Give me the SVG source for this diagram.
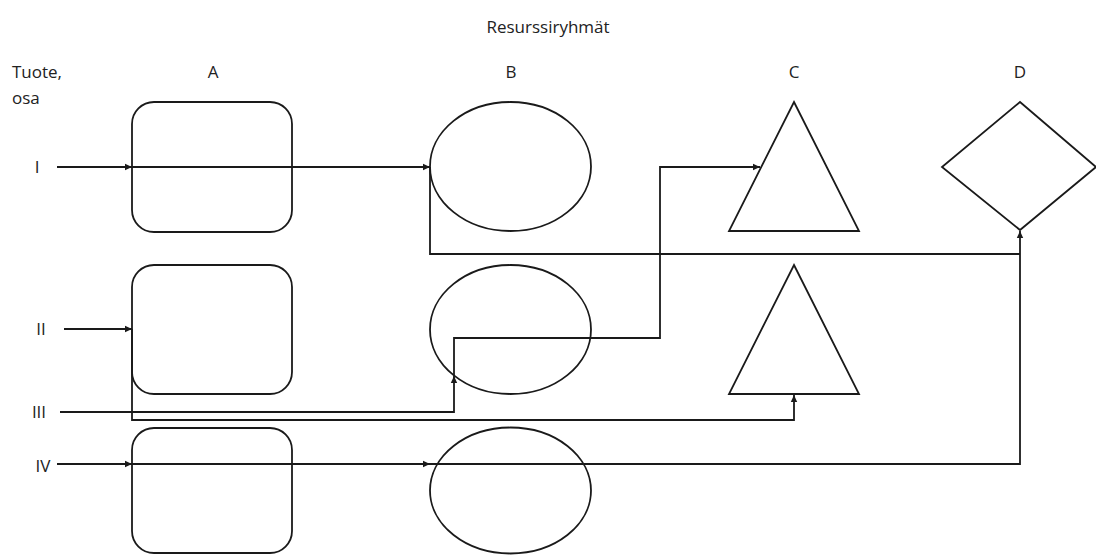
<svg xmlns="http://www.w3.org/2000/svg" width="1096" height="556" viewBox="0 0 1096 556">
<style>
.s{fill:none;stroke:#1a1a1a;stroke-width:1.8}
.c{fill:none;stroke:#1a1a1a;stroke-width:1.8}
.t{font-family:"Open Sans","Liberation Sans",sans-serif;font-size:17px;fill:#222}
</style>
<defs>
<marker id="ah" markerWidth="8" markerHeight="8" refX="7" refY="4" orient="auto" markerUnits="userSpaceOnUse">
<path d="M0,0.8 L7,4 L0,7.2 Z" fill="#1a1a1a"/>
</marker>
</defs>
<rect width="1096" height="556" fill="#fff"/>
<g id="labels">
<text class="t" x="548" y="33" text-anchor="middle">Resurssiryhmät</text>
<text class="t" x="12" y="78">Tuote,</text>
<text class="t" x="12" y="104">osa</text>
<text class="t" x="213" y="78" text-anchor="middle">A</text>
<text class="t" x="511" y="78" text-anchor="middle">B</text>
<text class="t" x="794" y="78" text-anchor="middle">C</text>
<text class="t" x="1020" y="78" text-anchor="middle">D</text>
<text class="t" x="37" y="173" text-anchor="middle">I</text>
<text class="t" x="41" y="335" text-anchor="middle">II</text>
<text class="t" x="39" y="418" text-anchor="middle">III</text>
<text class="t" x="43" y="472" text-anchor="middle">IV</text>
</g>
<g id="A1"><rect class="s" x="132" y="102" width="160" height="130" rx="22"/></g>
<g id="A2"><rect class="s" x="132" y="265" width="160" height="129" rx="22"/></g>
<g id="A3"><rect class="s" x="132" y="428" width="160" height="125" rx="22"/></g>
<g id="B1"><ellipse class="s" cx="510.5" cy="166.5" rx="80.5" ry="64.5"/></g>
<g id="B2"><ellipse class="s" cx="510.5" cy="329.5" rx="80.5" ry="64.5"/></g>
<g id="B3"><ellipse class="s" cx="510.5" cy="490.5" rx="80.5" ry="63"/></g>
<g id="C1"><polygon class="s" points="794,102 859,231 729,231"/></g>
<g id="C2"><polygon class="s" points="794,265 859,394 729,394"/></g>
<g id="D1"><polygon class="s" points="1020,102 1096,167 1020,230 942,167"/></g>
<g id="connectors">
<line class="c" x1="57" y1="167" x2="132" y2="167" marker-end="url(#ah)"/>
<line class="c" x1="132" y1="167" x2="430" y2="167" marker-end="url(#ah)"/>
<path class="c" d="M430,167 V254 H1020"/>
<line class="c" x1="64" y1="329" x2="132" y2="329" marker-end="url(#ah)"/>
<path class="c" d="M132,329 V420 H794 V395" marker-end="url(#ah)"/>
<path class="c" d="M60,412 H454 V376" marker-end="url(#ah)"/>
<path class="c" d="M454,376 V338 H660 V167 H760" marker-end="url(#ah)"/>
<line class="c" x1="57" y1="464" x2="132" y2="464" marker-end="url(#ah)"/>
<line class="c" x1="132" y1="464" x2="430" y2="464" marker-end="url(#ah)"/>
<path class="c" d="M430,464 H1020 V231" marker-end="url(#ah)"/>
</g>
</svg>
